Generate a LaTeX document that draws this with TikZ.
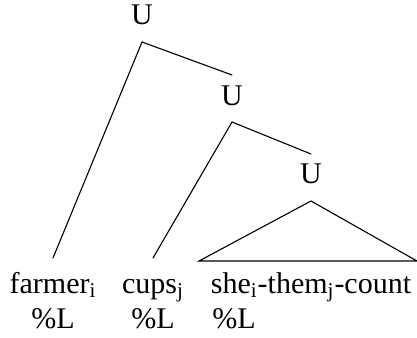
\documentclass[tikz,border=0pt]{standalone}
\usepackage{fontspec}
\setmainfont{Liberation Serif}
\usetikzlibrary{calc}
\tikzset{
  lbl/.style={anchor=base, inner sep=0pt, font=\fontsize{15}{18}\selectfont},
  edge/.style={draw=black, line width=0.55pt, line cap=round, line join=miter}
}
\begin{document}
\begin{tikzpicture}[x=0.5pt, y=-0.5pt]
\useasboundingbox (0,0) rectangle (417,337);
\node[lbl] (u1) at (142,25) {U};
\node[lbl] (u2) at (232,105) {U};
\node[lbl] (u3) at (311,183) {U};
\node[lbl] (farmer) at (53,293) {farmer\textsubscript{i}};
\node[lbl] (cups) at (153,293) {cups\textsubscript{j}};
\node[lbl] (sc) at (311,293) {she\textsubscript{i}-them\textsubscript{j}-count};
\node[lbl] (l1) at (53,328) {\%L};
\node[lbl] (l2) at (153,328) {\%L};
\node[lbl, anchor=base west] (l3) at (212,328) {\%L};
\coordinate (u1b) at ($(u1.base)+(0,17)$);
\coordinate (u2t) at ($(u2.base)+(0,-30)$);
\coordinate (u2b) at ($(u2.base)+(0,17)$);
\coordinate (u3t) at ($(u3.base)+(0,-29)$);
\coordinate (u3b) at ($(u3.base)+(0,18)$);
\coordinate (ft) at ($(farmer.base)+(0,-35)$);
\coordinate (ct) at ($(cups.base)+(0,-35)$);
\coordinate (bl) at (199,261);
\coordinate (br) at (417,261);
\draw[edge] (u1b) -- (ft);
\draw[edge] (u1b) -- (u2t);
\draw[edge] (u2b) -- (ct);
\draw[edge] (u2b) -- (u3t);
\draw[edge] (u3b) -- (bl) -- (br) -- cycle;
\end{tikzpicture}
\end{document}
